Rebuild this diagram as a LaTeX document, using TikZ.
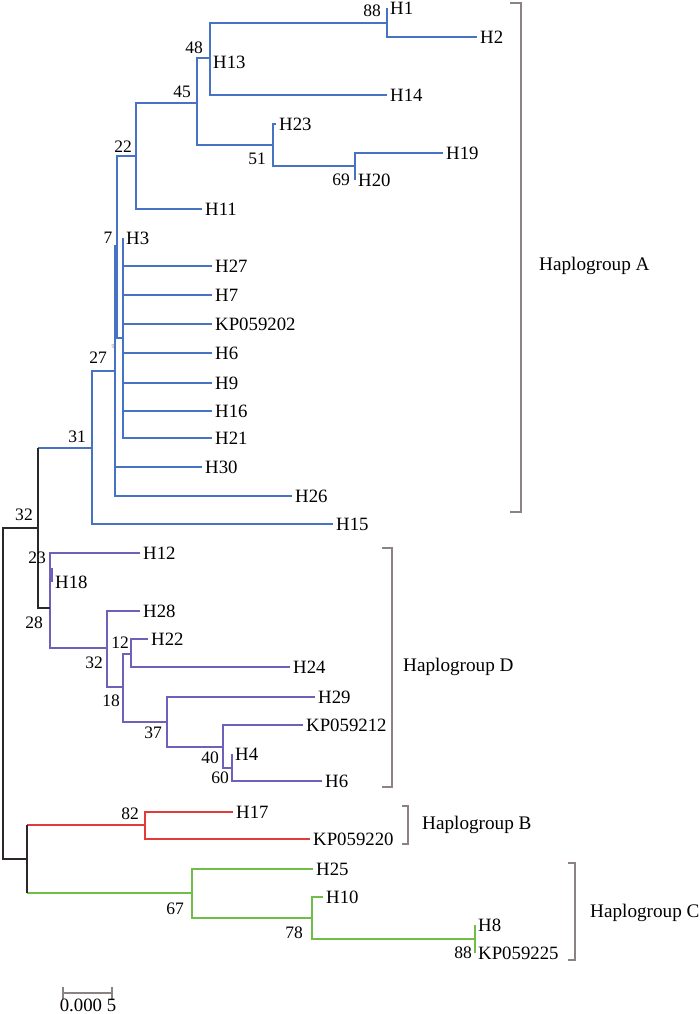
\documentclass[tikz,border=0pt]{standalone}
\usepackage{fontspec}
\setmainfont{Liberation Serif}
\usepackage{tikz}
\definecolor{hapA}{RGB}{70,115,195}
\definecolor{hapD}{RGB}{112,96,186}
\definecolor{hapB}{RGB}{228,58,58}
\definecolor{hapC}{RGB}{112,190,72}
\definecolor{stem}{RGB}{45,40,40}
\definecolor{grpgray}{RGB}{140,130,130}

\begin{document}
\begin{tikzpicture}[x=1pt,y=-1pt,
  every node/.style={inner sep=0pt},
  hap A/.style={draw=hapA,line width=2.6pt},
  hap D/.style={draw=hapD,line width=2.6pt},
  hap B/.style={draw=hapB,line width=2.6pt},
  hap C/.style={draw=hapC,line width=2.6pt},
  stem line/.style={draw=stem,line width=2.6pt},
  leaf/.style={anchor=west,inner sep=3pt,font=\fontsize{18.8}{20}\selectfont},
  boot/.style={font=\fontsize{17.5}{19}\selectfont},
  grp/.style={draw=grpgray,line width=2.4pt},
  grp label/.style={anchor=west,font=\fontsize{19.2}{21}\selectfont}]
\useasboundingbox (0,0) rectangle (700,1014);

% inner nodes
\coordinate (nR) at (3,693);
\coordinate (n32) at (38,528);
\coordinate (n31) at (92,448);
\coordinate (n27) at (115,371);
\coordinate (n7) at (117,246);
\coordinate (nP) at (123,338);
\coordinate (n22) at (136,156);
\coordinate (n45) at (197,103);
\coordinate (n48) at (210,58);
\coordinate (n88a) at (387,23);
\coordinate (n51) at (273,145);
\coordinate (n69) at (355,166);
\coordinate (nD) at (50,608);
\coordinate (n32d) at (107,648);
\coordinate (n18) at (123,687);
\coordinate (n12) at (131,654);
\coordinate (n37) at (167,722);
\coordinate (n40) at (223,747);
\coordinate (n60) at (232,768);
\coordinate (nBC) at (27,859);
\coordinate (n82) at (145,825);
\coordinate (n67) at (192,893);
\coordinate (n78) at (312,918);
\coordinate (n88c) at (475,939);

% Haplogroup A
\node[leaf] (H1) at (387,8) {H1};
\node[leaf] (H2) at (477,37) {H2};
\node[leaf] (H13) at (210,62) {H13};
\node[leaf] (H14) at (387,95) {H14};
\node[leaf] (H23) at (276,124) {H23};
\node[leaf] (H19) at (443,153) {H19};
\node[leaf] (H20) at (355,180) {H20};
\node[leaf] (H11) at (202,209) {H11};
\node[leaf] (H3) at (123,238) {H3};
\node[leaf] (H27) at (212,266) {H27};
\node[leaf] (H7) at (212,295) {H7};
\node[leaf] (KP059202) at (212,324) {KP059202};
\node[leaf] (H6) at (212,353) {H6};
\node[leaf] (H9) at (212,383) {H9};
\node[leaf] (H16) at (212,411) {H16};
\node[leaf] (H21) at (212,438) {H21};
\node[leaf] (H30) at (202,467) {H30};
\node[leaf] (H26) at (292,496) {H26};
\node[leaf] (H15) at (333,524) {H15};
\draw[hap A] (H1.west) -| (n88a) (H2.west) -| (n88a)
  (n88a) -| (n48) (H13.west) -| (n48) (H14.west) -| (n48)
  (H19.west) -| (n69) (H20.west) -| (n69)
  (H23.west) -| (n51) (n69) -| (n51)
  (n48) -| (n45) (n51) -| (n45)
  (n45) -| (n22) (H11.west) -| (n22);
\draw[hap A] (H3.west) -| (nP) (H27.west) -| (nP) (H7.west) -| (nP)
  (KP059202.west) -| (nP) (H6.west) -| (nP) (H9.west) -| (nP)
  (H16.west) -| (nP) (H21.west) -| (nP);
\draw[hap A] (n22) -| (n7) (nP) -| (n7)
  (n7) -| (n27) (H30.west) -| (n27) (H26.west) -| (n27)
  (n27) -| (n31) (H15.west) -| (n31)
  (n31) -- (n31 -| n32);

% Haplogroup D
\node[leaf] (H12) at (140,553) {H12};
\node[leaf] (H18) at (52,582) {H18};
\node[leaf] (H28) at (140,611) {H28};
\node[leaf] (H22) at (148,639) {H22};
\node[leaf] (H24) at (290,667) {H24};
\node[leaf] (H29) at (315,697) {H29};
\node[leaf] (KP059212) at (303,725) {KP059212};
\node[leaf] (H4) at (232,754) {H4};
\node[leaf] (H6d) at (322,781) {H6};
\draw[hap D] (H4.west) -| (n60) (H6d.west) -| (n60)
  (KP059212.west) -| (n40) (n60) -| (n40)
  (H29.west) -| (n37) (n40) -| (n37)
  (H22.west) -| (n12) (H24.west) -| (n12)
  (n12) -| (n18) (n37) -| (n18)
  (H28.west) -| (n32d) (n18) -| (n32d)
  (H12.west) -| (nD) (n32d) -| (nD);
\draw[hap D,line width=3.4pt] (H18.west) ++(-1,-14) -- ++(0,14);

% Haplogroup B and C
\node[leaf] (H17) at (233,812) {H17};
\node[leaf] (KP059220) at (310,839) {KP059220};
\node[leaf] (H25) at (313,869) {H25};
\node[leaf] (H10) at (323,897) {H10};
\node[leaf] (H8) at (475,925) {H8};
\node[leaf] (KP059225) at (475,953) {KP059225};
\draw[hap B] (H17.west) -| (n82) (KP059220.west) -| (n82)
  (n82) -- (n82 -| nBC);
\draw[hap C] (H8.west) -| (n88c) (KP059225.west) -| (n88c)
  (H10.west) -| (n78) (n88c) -| (n78)
  (H25.west) -| (n67) (n78) -| (n67)
  (n67) -- (n67 -| nBC);

% stem
\draw[stem line] (n31 -| n32) -- (n32) (nD) -| (n32)
  (n82 -| nBC) -- (n67 -| nBC)
  (n32) -| (nR) (nBC) -| (nR);

% bootstrap values
\node[boot] (b88a) at (372,11) {88};
\node[boot] (b48) at (194,48) {48};
\node[boot] (b45) at (182,92) {45};
\node[boot] (b22) at (123,147) {22};
\node[boot] (b51) at (257,159) {51};
\node[boot] (b69) at (341,180) {69};
\node[boot] (b7) at (108,238) {7};
\node[boot] (b27) at (98,358) {27};
\node[font=\fontsize{6}{6}\selectfont,text=grpgray] (b9) at (113,347) {9};
\node[boot] (b31) at (77,437) {31};
\node[boot] (b32) at (24,515) {32};
\node[boot] (b23) at (37,558) {23};
\node[boot] (b28) at (34,623) {28};
\node[boot] (b12) at (120,643) {12};
\node[boot] (b32d) at (94,663) {32};
\node[boot] (b18) at (111,701) {18};
\node[boot] (b37) at (153,733) {37};
\node[boot] (b40) at (210,758) {40};
\node[boot] (b60) at (220,778) {60};
\node[boot] (b82) at (130,814) {82};
\node[boot] (b67) at (175,909) {67};
\node[boot] (b78) at (294,933) {78};
\node[boot] (b88c) at (463,953) {88};

% haplogroup brackets
\draw[grp] (510,3) -| (521,512) -- (510,512);
\node[grp label] (gA) at (539,266) {Haplogroup A};
\draw[grp] (382,548) -| (392,787) -- (382,787);
\node[grp label] (gD) at (403,667) {Haplogroup D};
\draw[grp] (402,806) -| (408,844) -- (402,844);
\node[grp label] (gB) at (422,825) {Haplogroup B};
\draw[grp] (568,863) -| (575,960) -- (568,960);
\node[grp label] (gC) at (590,913) {Haplogroup C};

% scale bar
\coordinate (s0) at (62,993);
\coordinate (s1) at (113,993);
\draw[grp,line width=2pt,|-|] (s0) -- (s1);
\node[anchor=north,font=\fontsize{18.8}{20}\selectfont] (sl) at (88,999) {0.000 5};
\end{tikzpicture}
\end{document}
